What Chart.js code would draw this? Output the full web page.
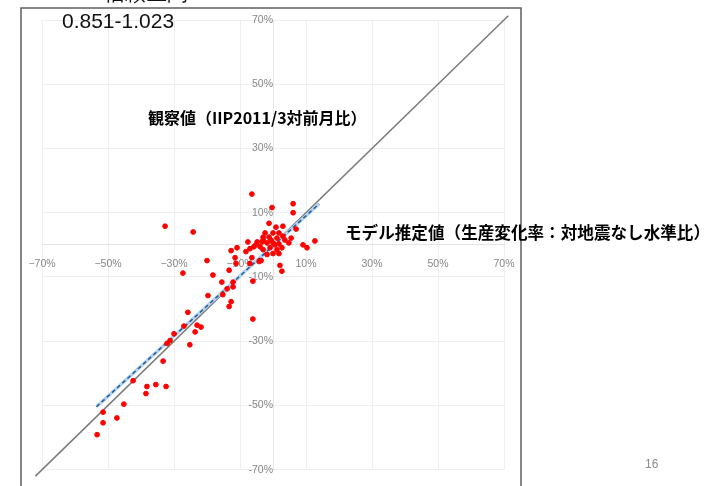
<!DOCTYPE html>
<html>
<head>
<meta charset="utf-8">
<script src="https://cdn.jsdelivr.net/npm/chart.js@4"></script>
<style>
  body { margin: 0; background: #fff; }
  #wrap { position: relative; width: 724px; height: 486px; overflow: hidden; }
  #c { position: absolute; left: 0; top: 0; }
  .t { position: absolute; white-space: nowrap; }
  .ci { font-family: "Liberation Sans", Arial, sans-serif; font-size: 21px; color: #111; left: 62px; }
  .ax { font-family: "Noto Sans CJK JP", sans-serif; font-weight: bold; color: #000; }
</style>
</head>
<body>
<div id="wrap">
  <canvas id="c" width="724" height="486"></canvas>
  <div class="t ci" style="top:-21px;">95%信頼区間</div>
  <div class="t ci" style="top:9px;">0.851-1.023</div>
  <div class="t ax" style="left:148px; top:105px; font-size:16px;">観察値（IIP2011/3対前月比）</div>
  <div class="t ax" style="left:345px; top:220px; font-size:16.6px;">モデル推定値（生産変化率：対地震なし水準比）</div>
  <div class="t" style="left:645px; top:457px; font-family:'Liberation Sans',sans-serif; font-size:12px; color:#8c8c8c;">16</div>
</div>
<script>
// モデル推定値 (x) と 観察値 (y), %
var modelRate = [
  -6.4, -0.3, 6.1, 6.1, -1.2, 3.0, 0.9, 7.0, -2.4, 0.0,
  1.8, -3.0, -1.2, 1.2, 3.0, -7.6, -4.8, -3.3, -1.8, 0.0,
  1.8, 4.8, 12.7, 9.1, 10.3, -5.8, -3.9, -7.0, -3.0, -0.9,
  1.2, 2.7, -1.8, 0.0, -32.7, -24.2, -12.7, -20.0, -11.2, -27.3,
  -18.2, -13.3, -7.0, -6.1, 2.1, 2.7, -3.6, -15.5, -12.1, -13.9,
  -12.1, -15.2, -19.7, -12.7, -13.3, -6.1, -25.8, -27.0, -23.0, -21.8,
  -23.6, -25.2, -30.0, -31.2, -32.1, -33.3, -42.4, -38.2, -35.5, -32.4,
  -38.5, -45.2, -47.3, -51.5, -51.5, -53.3, -8.2, -5.2, -6.4, -4.2,
  -11.5, -10.9, 1.8, -0.6, -3.0, 3.6, 5.5, 0.6
];
var observedRate = [
  15.8, 11.6, 12.8, 10.0, 6.7, 5.8, 5.5, 4.9, 3.7, 3.7,
  3.7, 2.4, 2.4, 2.1, 2.7, 0.9, 0.9, 0.9, 0.6, 0.6,
  0.3, 0.6, 1.2, 0.0, -0.9, -0.6, -0.6, -1.2, -1.5, -0.9,
  -1.5, -0.9, -3.0, -2.7, 5.8, 4.0, -1.8, -4.9, -5.8, -8.8,
  -9.4, -7.9, -5.8, -11.3, -6.4, -8.2, -4.9, -11.6, -11.6, -13.7,
  -13.1, -15.5, -15.8, -17.7, -19.2, -23.1, -21.0, -25.3, -25.0, -25.6,
  -27.1, -31.1, -27.7, -29.8, -30.7, -36.2, -42.3, -44.1, -43.5, -44.1,
  -46.3, -49.6, -53.9, -52.1, -55.4, -59.1, -2.1, 0.0, -4.0, -5.2,
  -4.0, -0.9, -2.7, 1.5, 1.5, 1.5, 2.1, 0.0
];
// 45度線 と 回帰線 (端点)
var diagLine = [-72, 71.3];
var fitX = [-53.5, 14.0];
var fitY = [-50.4, 12.8];
// 目盛
var xTicks = [-70, -50, -30, -10, 10, 30, 50, 70];
var yTicks = [-70, -50, -30, -10, 10, 30, 50, 70];

var pts = [];
for (var i = 0; i < modelRate.length; i++) {
  pts.push({x: modelRate[i], y: observedRate[i]});
}

var framePlugin = {
  id: 'frame',
  beforeDraw: function(chart) {
    var c = chart.ctx;
    c.save();
    c.strokeStyle = '#5f5f5f';
    c.lineWidth = 1.5;
    c.strokeRect(21, 8, 500, 490);
    c.restore();
  }
};

var ctx = document.getElementById('c').getContext('2d');
new Chart(ctx, {
  type: 'scatter',
  data: {
    datasets: [
      {
        label: 'obs',
        data: pts,
        backgroundColor: '#ff0000',
        borderColor: '#ff0000',
        pointRadius: 2.4,
        order: 1
      },
      {
        label: 'fit',
        data: fitX.map(function(v, k) { return {x: v, y: fitY[k]}; }),
        showLine: true,
        borderColor: '#1f5c99',
        borderWidth: 1.5,
        borderDash: [4, 3],
        pointRadius: 0,
        order: 2
      },
      {
        label: 'fitbg',
        data: fitX.map(function(v, k) { return {x: v, y: fitY[k]}; }),
        showLine: true,
        borderColor: '#b5d3ee',
        borderWidth: 3.5,
        pointRadius: 0,
        order: 3
      },
      {
        label: '45',
        data: diagLine.map(function(v) { return {x: v, y: v}; }),
        showLine: true,
        borderColor: '#7a7a7a',
        borderWidth: 1.5,
        pointRadius: 0,
        clip: false,
        order: 4
      }
    ]
  },
  options: {
    responsive: false,
    animation: false,
    layout: { padding: { left: 42, right: 220, top: 20, bottom: 6 } },
    plugins: { legend: { display: false }, tooltip: { enabled: false } },
    scales: {
      x: {
        type: 'linear',
        position: { y: 0 },
        min: -70, max: 70,
        afterBuildTicks: function(s) { s.ticks = xTicks.map(function(v) { return {value: v}; }); },
        afterFit: function(s) { s.height = 0; },
        grid: { color: '#efefef', drawTicks: false },
        border: { color: '#e4e4e4' },
        ticks: {
          padding: 13,
          color: '#878787',
          font: { family: 'Liberation Sans', size: 10.5 },
          callback: function(v) { return (v < 0 ? '\u2212' : '') + Math.abs(v) + '%'; }
        }
      },
      y: {
        type: 'linear',
        position: { x: 0 },
        min: -70, max: 70,
        afterBuildTicks: function(s) { s.ticks = yTicks.map(function(v) { return {value: v}; }); },
        afterFit: function(s) { s.width = 0; },
        grid: { color: '#efefef', drawTicks: false },
        border: { color: '#e4e4e4' },
        ticks: {
          padding: 10,
          color: '#878787',
          font: { family: 'Liberation Sans', size: 10.5 },
          callback: function(v) { return v + '%'; }
        }
      }
    }
  },
  plugins: [framePlugin]
});
</script>
</body>
</html>
